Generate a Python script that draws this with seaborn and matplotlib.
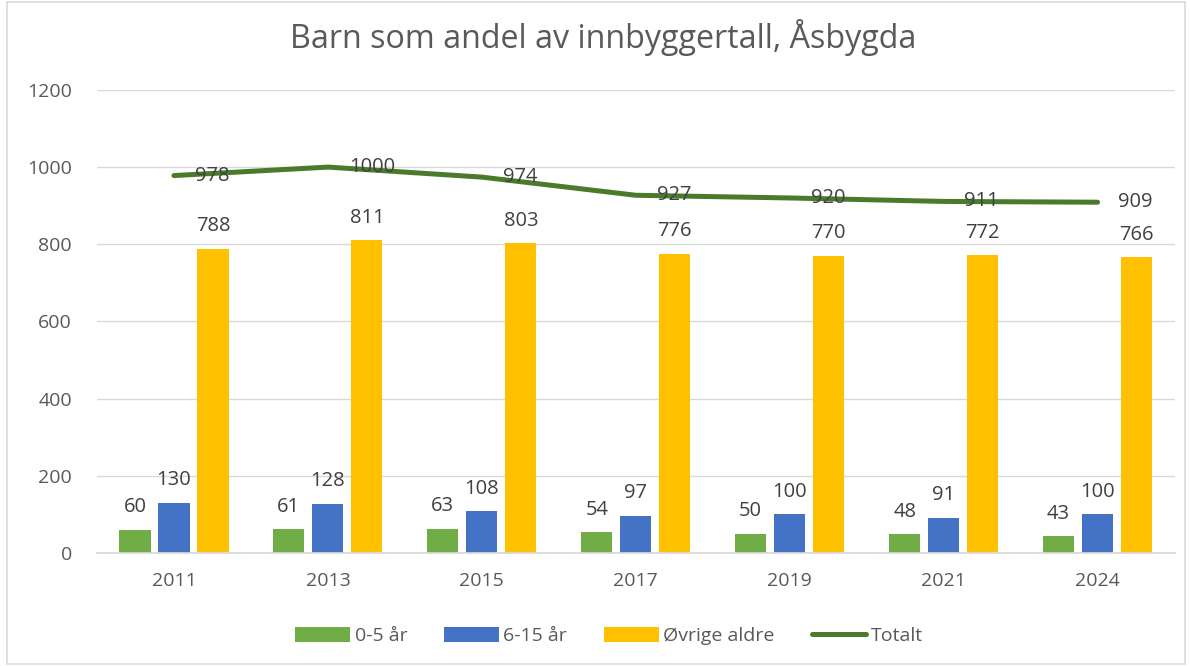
import matplotlib
matplotlib.use("Agg")
import matplotlib.pyplot as plt
import seaborn as sns
import pandas as pd
from matplotlib.patches import Rectangle, Patch
from matplotlib.lines import Line2D

years = ["2011", "2013", "2015", "2017", "2019", "2021", "2024"]
age_0_5 = [60, 61, 63, 54, 50, 48, 43]
age_6_15 = [130, 128, 108, 97, 100, 91, 100]
ovrige = [788, 811, 803, 776, 770, 772, 766]
totalt = [978, 1000, 974, 927, 920, 911, 909]
series_names = ["0-5 år", "6-15 år", "Øvrige aldre"]
colors = ["#70AD47", "#4472C4", "#FFC000"]
line_color = "#4A7A2C"
text_color = "#595959"
label_color = "#404040"

sns.set_theme(style="white")
plt.rcParams["font.family"] = ["Open Sans", "DejaVu Sans"]

rows = []
for name, vals in zip(series_names, [age_0_5, age_6_15, ovrige]):
    for y, v in zip(years, vals):
        rows.append({"År": y, "Serie": name, "Verdi": v})
df = pd.DataFrame(rows)

fig = plt.figure(figsize=(11.9, 6.66), dpi=100)
ax = fig.add_axes([0.0815, 0.1697, 0.9055, 0.6953])

sns.barplot(data=df, x="År", y="Verdi", hue="Serie", hue_order=series_names,
            palette=colors, width=0.76, gap=0.2, ax=ax, saturation=1,
            edgecolor="none", legend=False)

for cont in ax.containers:
    ax.bar_label(cont, padding=9, fontsize=14.5, color=label_color)

df_line = pd.DataFrame({"x": list(range(len(years))), "Totalt": totalt})
sns.lineplot(data=df_line, x="x", y="Totalt", ax=ax, color=line_color,
             linewidth=3.6, solid_capstyle="round", legend=False)
for i, v in enumerate(totalt):
    ax.annotate(str(v), (i, v), xytext=(15, 0), textcoords="offset points",
                ha="left", va="center", fontsize=14.5, color=label_color)

ax.set_xlim(-0.5, len(years) - 0.5)
ax.set_ylim(0, 1200)
ax.set_yticks(range(0, 1201, 200))
ax.set_xticks(range(len(years)))
ax.set_xticklabels(years)
ax.yaxis.grid(True, color="#D9D9D9", linewidth=1)
ax.set_axisbelow(True)
ax.set_xlabel("")
ax.set_ylabel("")
for s in ["top", "right", "left"]:
    ax.spines[s].set_visible(False)
ax.spines["bottom"].set_color("#D9D9D9")
ax.tick_params(axis="both", length=0, labelsize=14, colors=text_color)
ax.tick_params(axis="x", pad=14)
ax.tick_params(axis="y", pad=18)

fig.text(0.507, 0.943, "Barn som andel av innbyggertall, Åsbygda", ha="center",
         va="center", fontsize=23.2, color=text_color)

handles = [Patch(facecolor=c, edgecolor="none") for c in colors]
handles.append(Line2D([0], [0], color=line_color, linewidth=3.6, solid_capstyle="round"))
labels = series_names + ["Totalt"]
fig.legend(handles, labels, loc="center", bbox_to_anchor=(0.512, 0.045), ncol=4,
           frameon=False, fontsize=14, labelcolor=text_color, handlelength=2.8,
           handleheight=0.85, handletextpad=0.25, columnspacing=1.9)

fig.patches.append(Rectangle((0.006, 0.003), 0.99, 0.994, transform=fig.transFigure,
                             fill=False, edgecolor="#D9D9D9", linewidth=1.2))

fig.savefig("out.png", dpi=100)
